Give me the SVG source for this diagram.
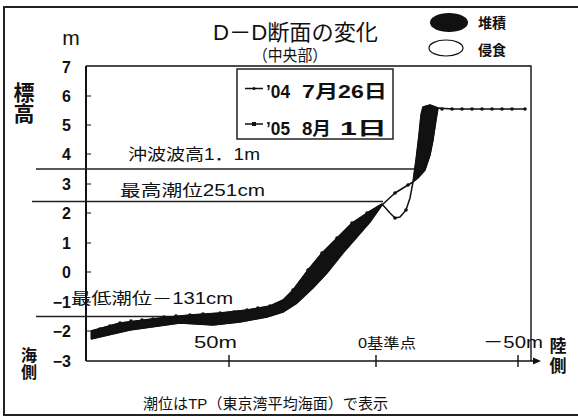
<svg xmlns="http://www.w3.org/2000/svg" width="578" height="417" viewBox="0 0 578 417">
<style>
.t{font-family:"Liberation Sans","Noto Sans CJK JP",sans-serif;fill:#111}
.b{font-weight:bold}
.ax{stroke:#111;fill:none}
.ref{stroke:#222;stroke-width:1.5;fill:none}
.prof{stroke:#111;stroke-width:1.5;fill:none;stroke-linejoin:round}
.dot{fill:#111}
</style>
<rect x="0" y="0" width="578" height="417" fill="#fff"/>
<rect x="4" y="7" width="590" height="408" fill="none" stroke="#222" stroke-width="2"/>

<g id="title">
<text class="t" x="213" y="40" font-size="22" textLength="165" lengthAdjust="spacingAndGlyphs">D－D断面の変化</text>
<text class="t" x="253" y="61" font-size="16" textLength="74" lengthAdjust="spacingAndGlyphs">（中央部）</text>
</g>

<g id="legend-change">
<ellipse cx="449" cy="22.5" rx="19" ry="9.5" fill="#111"/>
<text class="t b" x="478" y="28" font-size="14">堆積</text>
<ellipse cx="446" cy="48" rx="17" ry="8" fill="#fff" stroke="#111" stroke-width="1.2"/>
<text class="t b" x="478" y="55" font-size="14">侵食</text>
</g>

<g id="axes">
<path class="ax" d="M86 66H531V361" stroke-width="1.4"/>
<path class="ax" d="M86 66V361" stroke-width="2"/>
<path class="ax" d="M86 361H536" stroke-width="1.4"/>
<path d="M541 361L533 357.5V364.5Z" fill="#111"/>
<path class="ax" stroke-width="1.2" d="M86 96H91M86 125H91M86 154H91M86 184H91M86 213H91M86 243H91M86 272H91M86 302H91M86 331H91"/>
<path class="ax" stroke-width="1.4" d="M229 355V367M376 355V367M518 355V367"/>
</g>

<g id="y-labels" class="t b" font-size="16" text-anchor="end">
<text x="71" y="73">7</text>
<text x="71" y="102">6</text>
<text x="71" y="131">5</text>
<text x="71" y="160">4</text>
<text x="71" y="190">3</text>
<text x="71" y="219">2</text>
<text x="71" y="249">1</text>
<text x="71" y="278">0</text>
<text x="71" y="308">−1</text>
<text x="71" y="337">−2</text>
<text x="71" y="367">−3</text>
</g>
<text class="t" x="71" y="45" font-size="21" text-anchor="middle">m</text>
<g id="axis-titles" class="t b" text-anchor="middle">
<text x="24" y="100" font-size="21">標</text>
<text x="24" y="121" font-size="21">高</text>
<text x="29" y="361" font-size="16">海</text>
<text x="29" y="378" font-size="16">側</text>
<text x="558" y="352" font-size="17">陸</text>
<text x="558" y="372" font-size="17">側</text>
</g>

<g id="x-labels" class="t">
<text x="194" y="348" font-size="17" textLength="43" lengthAdjust="spacingAndGlyphs">50m</text>
<text x="358" y="348" font-size="14" textLength="58" lengthAdjust="spacingAndGlyphs">0基準点</text>
<text x="483" y="348" font-size="17" textLength="60" lengthAdjust="spacingAndGlyphs">－50m</text>
</g>

<g id="reference-lines">
<path class="ref" d="M36 169H415"/>
<path class="ref" d="M32 201.5H383"/>
<path class="ref" d="M36 316.5H200"/>
<text class="t" x="128" y="160" font-size="16" textLength="132" lengthAdjust="spacingAndGlyphs">沖波波高1．1m</text>
<text class="t" x="120" y="196" font-size="16" textLength="145" lengthAdjust="spacingAndGlyphs">最高潮位251cm</text>
<text class="t" x="71" y="304" font-size="16" textLength="162" lengthAdjust="spacingAndGlyphs">最低潮位－131cm</text>
</g>

<g id="connectors">
<path d="M91 331L120 323L160 318L190 315L220 313L247 310L270 306L283 300L293 290L308 270L322 253L337 238L352 223L367 213L382 204L382 205L370 222L357 237L343 253L327 273L313 288L297 303L283 312L267 317L240 322L213 325L180 323L130 330L91 339Z" fill="#111" stroke="#111" stroke-width="1" stroke-linejoin="round"/>
<path d="M413 182L416 160L419 135L421 115L423 107L430 105L438 108L436 120L433 140L430 155L425 170L418 178Z" fill="#111" stroke="#111" stroke-width="1" stroke-linejoin="round"/>
<polyline class="prof" points="91,331 120,323 160,318 190,315 220,313 247,310 270,306 283,300 293,290 308,270 322,253 337,238 352,223 367,213 382,204 390,213 395,218 400,217 406,210 410,198 413,182 416,160 419,135 421,115 423,107 430,105 438,108"/>
<polyline class="prof" points="91,339 130,330 180,323 213,325 240,322 267,317 283,312 297,303 313,288 327,273 343,253 357,237 370,222 382,205 395,193 408,185 413,182 418,178 425,170 430,155 433,140 436,120 438,108 452,109 525,109"/>
<g class="dot">
<circle cx="100" cy="329" r="1.8"/><circle cx="110" cy="326" r="1.8"/><circle cx="120" cy="323" r="1.8"/><circle cx="131" cy="321" r="1.8"/><circle cx="142" cy="320" r="1.8"/><circle cx="153" cy="319" r="1.8"/><circle cx="164" cy="317" r="1.8"/><circle cx="176" cy="316" r="1.8"/><circle cx="190" cy="315" r="1.8"/><circle cx="203" cy="314" r="1.8"/><circle cx="220" cy="313" r="1.8"/><circle cx="234" cy="312" r="1.8"/><circle cx="247" cy="310" r="1.8"/><circle cx="258" cy="308" r="1.8"/><circle cx="270" cy="306" r="1.8"/>
<circle cx="293" cy="290" r="1.8"/><circle cx="308" cy="270" r="1.8"/><circle cx="322" cy="253" r="1.8"/><circle cx="337" cy="238" r="1.8"/><circle cx="352" cy="223" r="1.8"/><circle cx="367" cy="213" r="1.8"/>
<circle cx="395" cy="218" r="1.8"/><circle cx="406" cy="210" r="1.8"/><circle cx="395" cy="193" r="1.8"/><circle cx="408" cy="185" r="1.8"/>
<circle cx="442" cy="109" r="1.8"/><circle cx="452" cy="109" r="1.8"/><circle cx="462" cy="109" r="1.8"/><circle cx="472" cy="109" r="1.8"/><circle cx="482" cy="109" r="1.8"/><circle cx="492" cy="109" r="1.8"/><circle cx="502" cy="109" r="1.8"/><circle cx="512" cy="109" r="1.8"/><circle cx="525" cy="109" r="1.8"/>
</g>
</g>

<g id="legend-series">
<rect x="237" y="69" width="156" height="70" fill="#fff" stroke="#222" stroke-width="1.5"/>
<path d="M245 88.5H263M245 124H263" stroke="#111" stroke-width="1.5"/>
<circle cx="254" cy="88.5" r="1.6" fill="#111"/>
<rect x="252" y="122" width="4" height="4" fill="#111"/>
<g class="t b" font-size="18">
<text x="266" y="98" textLength="24" lengthAdjust="spacingAndGlyphs">’04</text>
<text x="302" y="98" textLength="85" lengthAdjust="spacingAndGlyphs">7月26日</text>
<text x="266" y="135" textLength="24" lengthAdjust="spacingAndGlyphs">’05</text>
<text x="302" y="135" textLength="29" lengthAdjust="spacingAndGlyphs">8月</text>
<text x="340" y="135" textLength="47" lengthAdjust="spacingAndGlyphs">1日</text>
</g>
</g>

<text id="note" class="t" x="143" y="409" font-size="15" textLength="245" lengthAdjust="spacingAndGlyphs">潮位はTP（東京湾平均海面）で表示</text>
</svg>
